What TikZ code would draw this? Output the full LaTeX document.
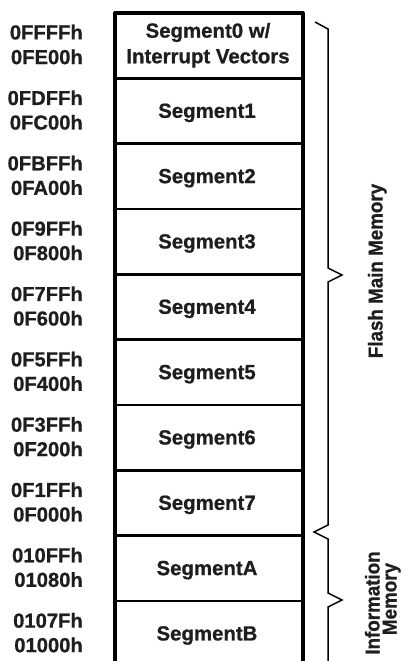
\documentclass[tikz,border=0pt]{standalone}
\usepackage{fontspec}
\setmainfont{Liberation Sans}[BoldFeatures={FakeBold=0.8}]
% slightly narrowed face for the rotated side labels
\newfontfamily\vfont{Liberation Sans}[FakeStretch=0.93, BoldFeatures={FakeBold=1}]
\definecolor{ink}{HTML}{1E1E1E}
\begin{document}
\begin{tikzpicture}[x=1pt,y=-1pt,
  seglabel/.style={font=\bfseries\fontsize{20.4}{25}\selectfont, text=ink, inner sep=0pt, anchor=base},
  addr/.style={font=\bfseries\fontsize{20.2}{25}\selectfont, text=ink, inner sep=0pt, anchor=base east},
  side/.style={font=\vfont\bfseries\fontsize{20.2}{17}\selectfont, text=ink, inner sep=0pt, rotate=90, anchor=base},
  frame/.style={line width=3.3pt, line join=round},
  divider/.style={line width=2.9pt},
  bracket/.style={line width=1.5pt, line join=miter}]
\useasboundingbox (0,0) rectangle (406,661);

% memory map frame (open at the bottom)
\draw[frame] (115,668) -- (115,13) -- (303,13) -- (303,668);
\foreach \k in {1,...,9}
  \draw[divider] (115,{13+65.33*\k}) -- (303,{13+65.33*\k});

% first segment with two-line name
\node[seglabel] (seg0a) at (208,{13+32.67-8}) {Segment0 w/};
\node[seglabel] (seg0b) at (208,{13+32.67+17.6}) {Interrupt Vectors};
\node[addr] (hi0) at (83,{13+32.67-6.3}) {0FFFFh};
\node[addr] (lo0) at (83,{13+32.67+18.4}) {0FE00h};

% remaining segments
\foreach \i/\nm/\hi/\lo in {1/Segment1/0FDFFh/0FC00h, 2/Segment2/0FBFFh/0FA00h,
    3/Segment3/0F9FFh/0F800h, 4/Segment4/0F7FFh/0F600h, 5/Segment5/0F5FFh/0F400h,
    6/Segment6/0F3FFh/0F200h, 7/Segment7/0F1FFh/0F000h, 8/SegmentA/010FFh/01080h,
    9/SegmentB/0107Fh/01000h}{
  \node[seglabel] (seg\i) at (207,{13+65.33*(\i+0.5)+6.8}) {\nm};
  \node[addr] (hi\i) at (83,{13+65.33*(\i+0.5)-6}) {\hi};
  \node[addr] (lo\i) at (83,{13+65.33*(\i+0.5)+18.5}) {\lo};
}

% brackets for the two memory areas
\draw[bracket] (315,22) -- (328,29) -- (328,268) -- (342,275) -- (328,282)
  -- (328,525) -- (314,532) -- (328,539) -- (328,593) -- (342,600) -- (328,607) -- (328,668);

\node[side] (flash) at (382.5,271) {Flash Main Memory};
\node[side] (info1) at (379.5,603) {Information};
\node[side] (info2) at (396.5,599) {Memory};
\end{tikzpicture}
\end{document}
